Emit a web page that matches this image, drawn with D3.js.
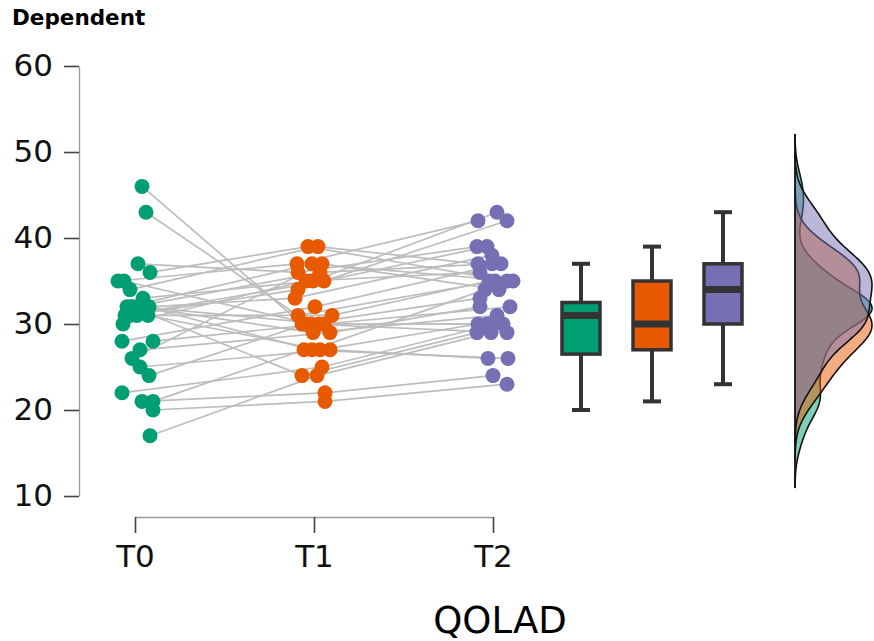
<!DOCTYPE html>
<html>
<head>
<meta charset="utf-8">
<script src="https://cdn.jsdelivr.net/npm/d3@7"></script>
<style>
  body { margin: 0; background: #fff; }
  svg { display: block; font-family: "DejaVu Sans", sans-serif; }
</style>
</head>
<body>
<svg width="874" height="641"></svg>
<script>
// one entry per subject
const times = ["T0", "T1", "T2"];
const t0 = [46,43,37,36,35,35,34,33,32,32,32,32,32,32,32,31,31,31,31,30,28,28,27,26,25,24,22,21,21,20,17];
const t1 = [30,31,36,39,37,30,39,35,27,36,29,37,33,30,24,35,27,31,34,35,32,30,29,37,27,30,25,22,27,21,24];
const t2 = [33,35,39,35,42,30,37,43,34,37,31,35,38,32,29,39,30,35,42,36,37,30,32,34,26,29,30,24,26,23,29];
// horizontal jitter of each point, -1..1
const j0 = [.35,.55,.15,.75,-.85,-.55,-.25,.4,.5,-.1,.2,-.4,.7,.3,-.2,-.5,.65,.1,-.3,-.6,-.65,.9,.25,-.15,.25,.7,-.65,.35,.9,.9,.75];
const j1 = [-.6,-.8,-.8,-.3,-.85,-.15,.2,-.05,-.1,.3,-.05,-.1,-.95,.5,-.6,.5,.3,.9,-.8,-.4,.05,.25,.8,.4,.8,-.4,.4,.55,-.5,.55,.15];
const j2 = [-.65,.1,-.8,.7,-.75,.5,-.75,.2,-.4,-.05,.2,1,-.05,.85,-.8,-.3,-.75,-.2,.7,-.65,.4,-.3,-.65,.3,-.25,.7,.1,0,.75,.7,-.1];
const yTicks = [10, 20, 30, 40, 50, 60];
const colors = ["#009e73", "#e85a00", "#7570b3"];

const series = [t0, t1, t2];
const jitters = [j0, j1, j2];

const svg = d3.select("svg");

const y = d3.scaleLinear().domain([10, 60]).range([496, 66]);
const x = d3.scalePoint().domain(times).range([135, 493]);
const xBox = d3.scalePoint().domain(times).range([581, 723]);
const jit = d3.scaleLinear().domain([-1, 1]).range([-20, 20]);

// y axis
const yAxis = svg.append("g")
  .attr("transform", "translate(79,0)")
  .call(d3.axisLeft(y).tickValues(yTicks).tickSize(15).tickSizeOuter(0).tickPadding(11));
yAxis.select(".domain").attr("stroke", "#9a9a9a").attr("stroke-width", 1.3);
yAxis.selectAll(".tick line").attr("stroke", "#444").attr("stroke-width", 1.6);
yAxis.selectAll(".tick text").attr("font-size", 31).attr("fill", "#111")
  .attr("font-family", "DejaVu Sans");

// x axis
const xAxis = svg.append("g")
  .attr("transform", "translate(0,517)")
  .call(d3.axisBottom(x).tickSize(16).tickSizeOuter(0).tickPadding(12));
xAxis.select(".domain").attr("stroke", "#9a9a9a").attr("stroke-width", 1.3);
xAxis.selectAll(".tick line").attr("stroke", "#444").attr("stroke-width", 1.6);
xAxis.selectAll(".tick text").attr("font-size", 31).attr("fill", "#111")
  .attr("font-family", "DejaVu Sans");

// subject lines
const line = d3.line();
const subjects = d3.range(t0.length);
svg.append("g").selectAll("path")
  .data(subjects)
  .join("path")
  .attr("d", i => line(times.map((t, k) => [x(t) + jit(jitters[k][i]), y(series[k][i])])))
  .attr("fill", "none")
  .attr("stroke", "#bdbdbd")
  .attr("stroke-width", 1.7);

// points
times.forEach((t, k) => {
  svg.append("g").selectAll("circle")
    .data(series[k])
    .join("circle")
    .attr("cx", (d, i) => x(t) + jit(jitters[k][i]))
    .attr("cy", d => y(d))
    .attr("r", 7.5)
    .attr("fill", colors[k]);
});

// boxplots (R-7 quantiles, 1.5 IQR whiskers)
const bw = 38;
times.forEach((t, k) => {
  const v = series[k].slice().sort(d3.ascending);
  const q1 = d3.quantile(v, 0.25), med = d3.quantile(v, 0.5), q3 = d3.quantile(v, 0.75);
  const iqr = q3 - q1;
  const lo = d3.min(v.filter(d => d >= q1 - 1.5 * iqr));
  const hi = d3.max(v.filter(d => d <= q3 + 1.5 * iqr));
  const cx = xBox(t);
  const g = svg.append("g");
  g.append("line").attr("x1", cx).attr("x2", cx).attr("y1", y(hi)).attr("y2", y(q3))
    .attr("stroke", "#333").attr("stroke-width", 4);
  g.append("line").attr("x1", cx).attr("x2", cx).attr("y1", y(q1)).attr("y2", y(lo))
    .attr("stroke", "#333").attr("stroke-width", 4);
  [lo, hi].forEach(w => g.append("line")
    .attr("x1", cx - 9).attr("x2", cx + 9).attr("y1", y(w)).attr("y2", y(w))
    .attr("stroke", "#333").attr("stroke-width", 4));
  g.append("rect").attr("x", cx - bw / 2).attr("width", bw)
    .attr("y", y(q3)).attr("height", y(q1) - y(q3))
    .attr("fill", colors[k]).attr("stroke", "#333").attr("stroke-width", 3.5);
  g.append("line").attr("x1", cx - bw / 2).attr("x2", cx + bw / 2)
    .attr("y1", y(med)).attr("y2", y(med))
    .attr("stroke", "#333").attr("stroke-width", 7);
});

// densities (gaussian kernel, bw.nrd0), each scaled to the same width
function nrd0(v) {
  const s = d3.deviation(v);
  const iqr = d3.quantile(v, 0.75) - d3.quantile(v, 0.25);
  return 0.9 * Math.min(s, iqr / 1.34) * Math.pow(v.length, -0.2);
}
const dens = series.map(vals => {
  const v = vals.slice().sort(d3.ascending);
  const h = nrd0(v);
  const a = v[0] - 3 * h, b = v[v.length - 1] + 3 * h;
  const pts = d3.range(0, 201).map(i => {
    const p = a + (b - a) * i / 200;
    const d = d3.sum(v, e => Math.exp(-0.5 * ((p - e) / h) ** 2)) / (v.length * h * Math.sqrt(2 * Math.PI));
    return [p, d];
  });
  const m = d3.max(pts, d => d[1]);
  return pts.map(d => [d[0], d[1] / m]);
});
const x0 = 795;
const dW = d3.scaleLinear().domain([0, 1]).range([0, 77]);
const area = d3.area()
  .y(d => y(d[0]))
  .x0(x0)
  .x1(d => x0 + dW(d[1]));
const outline = d3.line().y(d => y(d[0])).x(d => x0 + dW(d[1]));
dens.forEach((s, k) => {
  svg.append("path").attr("d", area(s))
    .attr("fill", colors[k]).attr("fill-opacity", 0.5).attr("stroke", "none");
  svg.append("path").attr("d", outline(s))
    .attr("fill", "none").attr("stroke", "#111").attr("stroke-width", 1.6);
});
const ext = d3.extent(dens.flat(), d => d[0]);
svg.append("line").attr("x1", x0).attr("x2", x0)
  .attr("y1", y(ext[1])).attr("y2", y(ext[0]))
  .attr("stroke", "#111").attr("stroke-width", 1.8);

// titles
svg.append("text")
  .attr("x", 12).attr("y", 25)
  .attr("font-size", 21.5).attr("font-weight", "bold")
  .text("Dependent");

svg.append("text")
  .attr("x", 500).attr("y", 633)
  .attr("text-anchor", "middle")
  .attr("font-size", 37)
  .text("QOLAD");
</script>
</body>
</html>
